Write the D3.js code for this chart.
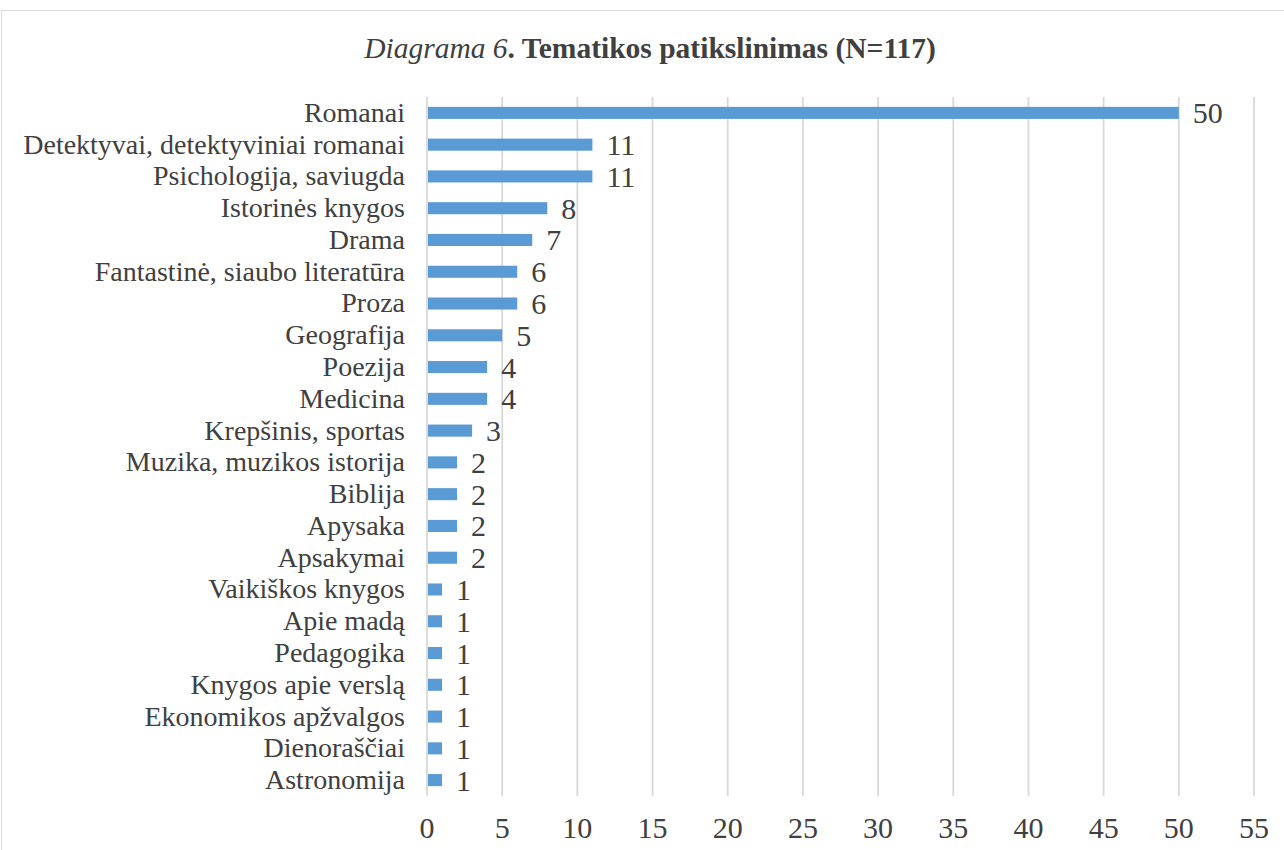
<!DOCTYPE html>
<html><head><meta charset="utf-8">
<script src="https://cdn.jsdelivr.net/npm/d3@7"></script>
<style>body{margin:0;background:#fff}svg{display:block}svg text{font-family:"Liberation Serif","Times New Roman","DejaVu Serif",serif}</style>
</head><body>
<svg id="c" width="1284" height="850"></svg>
<script>
const categories = ["Romanai","Detektyvai, detektyviniai romanai","Psichologija, saviugda","Istorinės knygos","Drama","Fantastinė, siaubo literatūra","Proza","Geografija","Poezija","Medicina","Krepšinis, sportas","Muzika, muzikos istorija","Biblija","Apysaka","Apsakymai","Vaikiškos knygos","Apie madą","Pedagogika","Knygos apie verslą","Ekonomikos apžvalgos","Dienoraščiai","Astronomija"];
const values = [50,11,11,8,7,6,6,5,4,4,3,2,2,2,2,1,1,1,1,1,1,1];
const xTicks = [0,5,10,15,20,25,30,35,40,45,50,55];

const svg = d3.select("#c");
const txt = "#404040";
svg.append("rect").attr("x",1.5).attr("y",10.5).attr("width",1290).attr("height",850).attr("fill","#fff").attr("stroke","#d9d9d9");

const x = d3.scaleLinear().domain([0,55]).range([427,1254]);
const y = d3.scaleBand().domain(categories).range([97,796]).paddingInner(0.62).paddingOuter(0.31);

const t = svg.append("text").attr("x",650).attr("y",58).attr("text-anchor","middle")
  .attr("font-size",29.5).attr("fill",txt);
t.append("tspan").attr("font-style","italic").text("Diagrama 6");
t.append("tspan").attr("font-weight","bold").text(". Tematikos patikslinimas (N=117)");

svg.append("g").selectAll("line").data(xTicks).join("line")
  .attr("x1",d=>x(d)).attr("x2",d=>x(d)).attr("y1",97).attr("y2",796)
  .attr("stroke","#d9d9d9").attr("stroke-width",1.8);

svg.append("g").selectAll("rect").data(categories).join("rect")
  .attr("x",x(0)+1).attr("y",d=>y(d)).attr("height",y.bandwidth())
  .attr("width",(d,i)=>x(values[i])-x(0)-1).attr("fill","#5b9bd5");

svg.append("g").selectAll("text").data(categories).join("text")
  .attr("x",405).attr("y",d=>y(d)+y.bandwidth()/2).attr("dy","0.32em")
  .attr("text-anchor","end").attr("font-size",28).attr("fill",txt)
  .text(d=>d);

svg.append("g").selectAll("text").data(categories).join("text")
  .attr("x",(d,i)=>x(values[i])+14).attr("y",d=>y(d)+y.bandwidth()/2).attr("dy","0.35em")
  .attr("font-size",30).attr("fill",txt)
  .text((d,i)=>values[i]);

svg.append("g").selectAll("text").data(xTicks).join("text")
  .attr("x",d=>x(d)).attr("y",838).attr("text-anchor","middle")
  .attr("font-size",30).attr("fill",txt).text(d=>d);
</script>
</body></html>
